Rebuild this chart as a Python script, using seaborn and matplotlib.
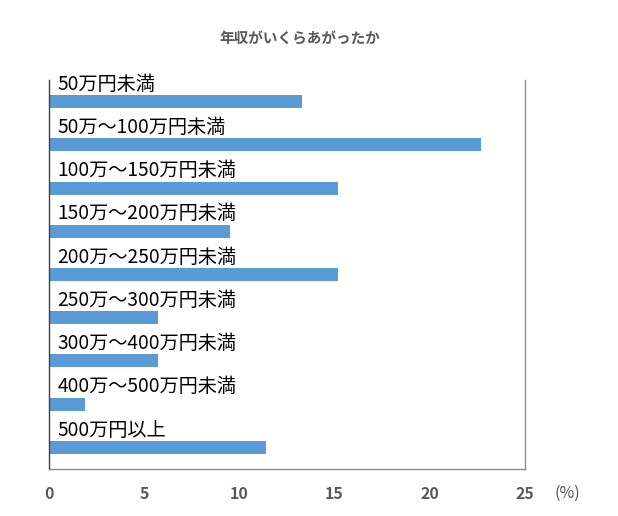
import matplotlib
matplotlib.use('Agg')
import matplotlib.pyplot as plt
import seaborn as sns

categories = ['50万円未満', '50万～100万円未満', '100万～150万円未満', '150万～200万円未満',
              '200万～250万円未満', '250万～300万円未満', '300万～400万円未満',
              '400万～500万円未満', '500万円以上']
values = [13.3, 22.7, 15.2, 9.5, 15.2, 5.7, 5.7, 1.9, 11.4]
xticks = [0, 5, 10, 15, 20, 25]

sns.set_style('white')
plt.rcParams['font.family'] = ['Noto Sans CJK JP', 'DejaVu Sans']

fig = plt.figure(figsize=(6.18, 5.16), dpi=100)
ax = fig.add_axes([0.0793, 0.0911, 0.7702, 0.7539])

sns.barplot(x=values, y=categories, orient='h', color='#5B9BD5', width=0.3,
            saturation=1, linewidth=0, ax=ax)

for i, lab in enumerate(categories):
    ax.text(0.45, i - 0.40, lab, fontsize=13.8, color='black', va='center', ha='left')

ax.set_xlim(0, 25)
ax.set_xticks(xticks)
ax.set_xticklabels([str(t) for t in xticks], fontsize=11.5, color='#595959', fontweight='bold')
ax.tick_params(axis='x', length=0, pad=12)
ax.set_yticks([])
ax.set_xlabel('')
ax.set_ylabel('')

ax.spines['top'].set_visible(False)
for s in ['left', 'right', 'bottom']:
    ax.spines[s].set_visible(True)
    ax.spines[s].set_linewidth(1)
ax.spines['left'].set_color('#404040')
ax.spines['right'].set_color('#8c8c8c')
ax.spines['bottom'].set_color('#8c8c8c')

fig.text(0.485, 0.926, '年収がいくらあがったか', fontsize=10.5, color='#595959',
         fontweight='bold', ha='center', va='center')
fig.text(567 / 618, 1 - 493 / 516, '(%)', fontsize=11.5, color='#595959',
         ha='center', va='center')

fig.savefig('out.png', dpi=100)
